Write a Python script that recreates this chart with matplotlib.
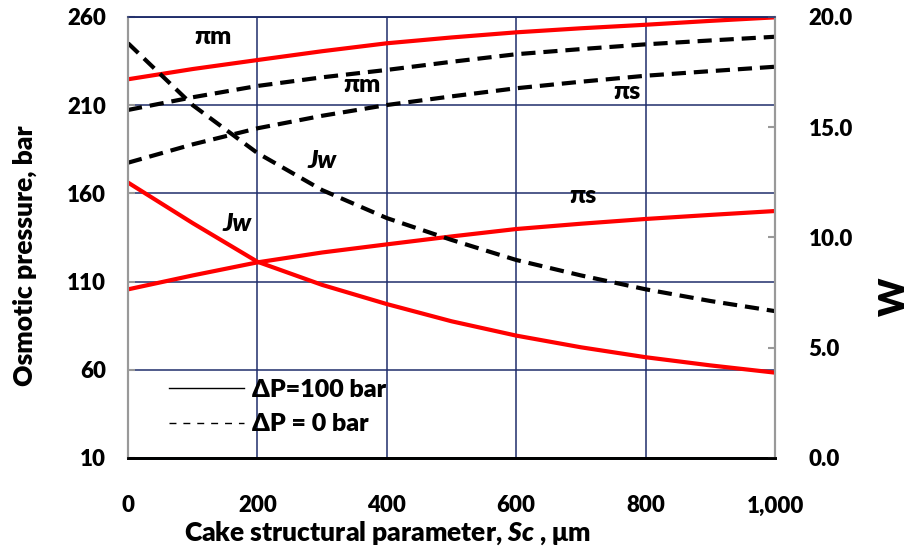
import matplotlib.pyplot as plt
from matplotlib.lines import Line2D

plt.rcParams['font.family'] = ['Lato', 'DejaVu Sans']
plt.rcParams['font.weight'] = 'heavy'
plt.rcParams['mathtext.fontset'] = 'custom'
plt.rcParams['mathtext.rm'] = 'Lato:heavy'
plt.rcParams['mathtext.it'] = 'Lato:italic:heavy'

# cake structural parameter Sc (um)
sc = [0, 100, 200, 300, 400, 500, 600, 700, 800, 900, 1000]

# osmotic pressures (bar), dP = 100 bar
pi_m_100 = [224.7, 230.5, 235.6, 240.6, 245.1, 248.4, 251.3, 253.6, 255.6, 257.8, 259.8]
pi_s_100 = [105.6, 113.5, 120.9, 126.5, 131.1, 135.6, 139.8, 142.8, 145.5, 147.8, 150.0]
# osmotic pressures (bar), dP = 0 bar
pi_m_0 = [207.3, 214.5, 220.9, 225.8, 230.0, 234.6, 238.9, 241.8, 244.5, 246.7, 248.8]
pi_s_0 = [177.4, 187.8, 196.9, 204.0, 210.1, 215.0, 219.6, 223.3, 226.7, 229.3, 231.8]

# water flux Jw
jw_100 = [12.49, 10.65, 8.90, 7.85, 6.98, 6.20, 5.55, 5.02, 4.57, 4.20, 3.87]
jw_0 = [18.81, 16.0, 13.83, 12.15, 10.88, 9.89, 8.98, 8.28, 7.65, 7.12, 6.66]

left_ticks = [10, 60, 110, 160, 210, 260]
right_ticks = [0, 5, 10, 15, 20]
x_ticks = [0, 200, 400, 600, 800, 1000]

navy = '#1f2d6b'
dash = (0, (3.4, 1.9))

fig = plt.figure(figsize=(9.12, 5.5), dpi=100)
ax = fig.add_axes([0.1404, 0.1673, 0.7094, 0.8018])
ax2 = ax.twinx()

ax.plot(sc, pi_m_100, color='red', lw=3)
ax.plot(sc, pi_s_100, color='red', lw=3)
ax.plot(sc, pi_m_0, color='black', lw=3, linestyle=dash)
ax.plot(sc, pi_s_0, color='black', lw=3, linestyle=dash)
ax2.plot(sc, jw_100, color='red', lw=3)
ax2.plot(sc, jw_0, color='black', lw=3, linestyle=dash)

ax.set_xlim(0, 1000)
ax.set_ylim(10, 260)
ax2.set_ylim(0, 20)

ax.set_xticks(x_ticks)
ax.set_xticklabels(['{:,}'.format(v) for v in x_ticks])
ax.set_yticks(left_ticks)
ax2.set_yticks(right_ticks)
ax2.set_yticklabels(['{:.1f}'.format(v) for v in right_ticks])

ax.grid(True, color=navy, lw=1.1)
ax.set_axisbelow(True)

ax.tick_params(axis='x', direction='in', length=0, pad=27, labelsize=16)
ax.tick_params(axis='y', direction='in', length=5, width=1.5, color='#999999',
               pad=16, labelsize=16)
ax2.tick_params(axis='y', direction='in', length=5, width=1.5, color='#999999',
                pad=24, labelsize=16)

for a in (ax, ax2):
    a.spines['left'].set_color('#999999')
    a.spines['left'].set_linewidth(1.5)
    a.spines['right'].set_color('#999999')
    a.spines['right'].set_linewidth(1.5)
    a.spines['top'].set_color(navy)
    a.spines['top'].set_linewidth(1.1)
    a.spines['bottom'].set_color('black')
    a.spines['bottom'].set_linewidth(2)

# axis titles
fig.text(0.4254, 0.031, r'Cake structural parameter, $\mathit{Sc}$ , μm', fontsize=19,
         ha='center', va='center')
fig.text(0.027, 0.536, 'Osmotic pressure, bar', fontsize=19, rotation=90,
         ha='center', va='center')
fig.text(0.981, 0.46, 'W', rotation=90, fontsize=26, ha='center', va='center')

# curve labels
lab = dict(fontsize=18, ha='center', va='center')
ax.text(131, 248.6, 'πm', **lab)
ax.text(362, 221.4, 'πm', **lab)
ax.text(771, 217.5, 'πs', **lab)
ax.text(703, 158.5, 'πs', **lab)
ax.text(300, 178.9, 'Jw', style='italic', **lab)
ax.text(168, 142.7, 'Jw', style='italic', **lab)

handles = [Line2D([], [], color='black', lw=1),
           Line2D([], [], color='black', lw=1, linestyle=(0, (5, 5)))]
ax.legend(handles, ['ΔP=100 bar', 'ΔP = 0 bar'], frameon=False, fontsize=18,
          loc='lower left', bbox_to_anchor=(0.029, 0.0), handlelength=3.0,
          handletextpad=0.3, labelspacing=0.5)

fig.savefig('out.png', dpi=100)
